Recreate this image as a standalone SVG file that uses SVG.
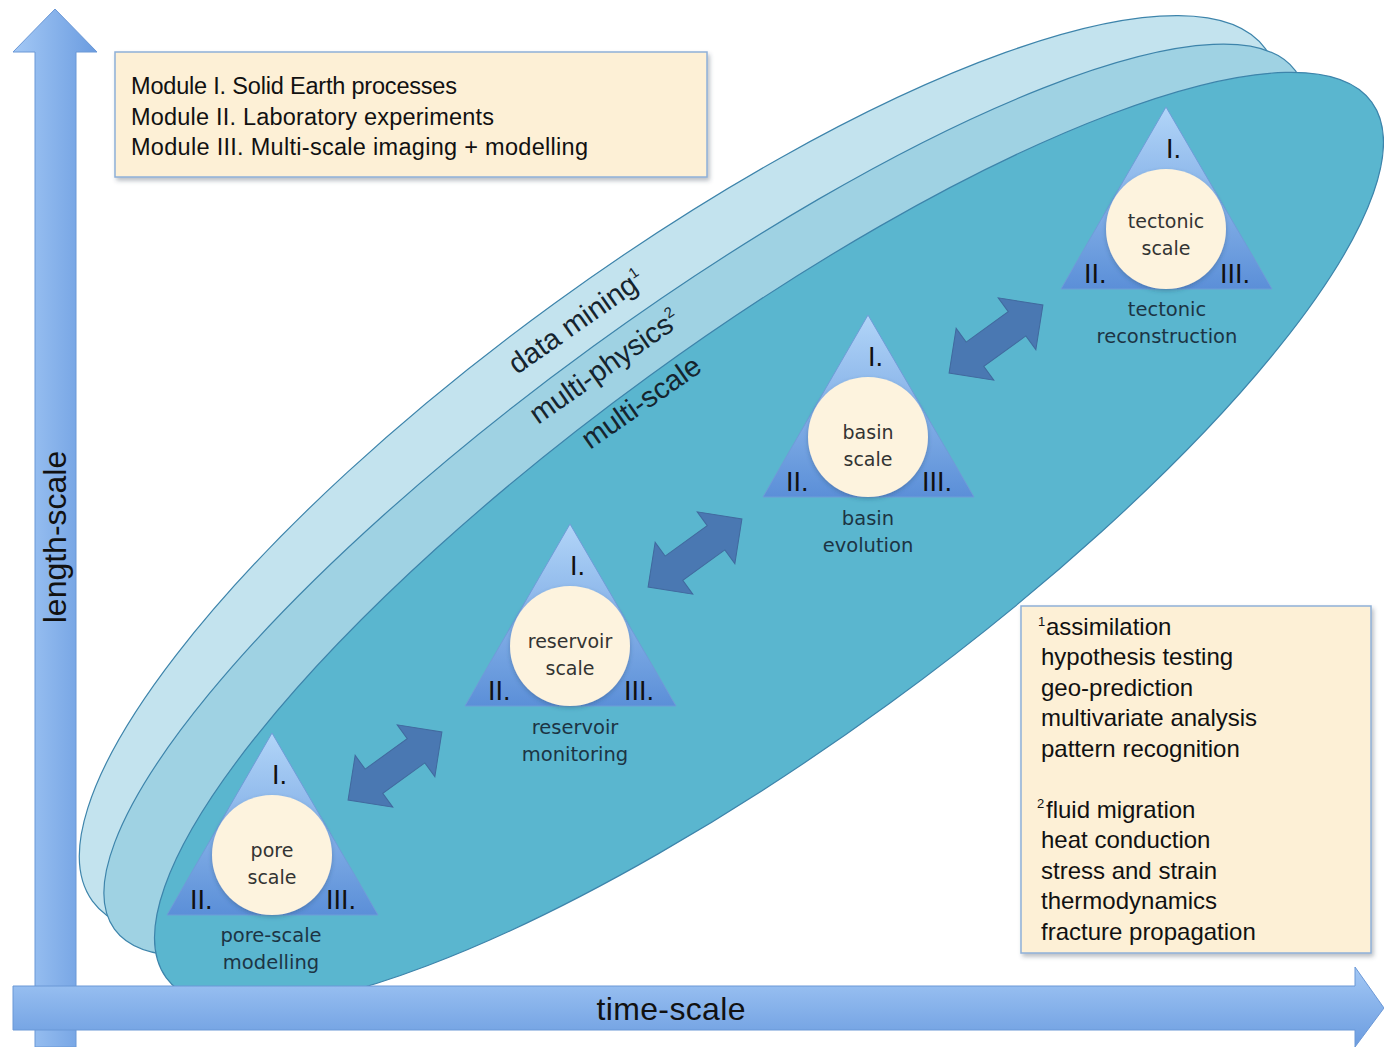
<svg xmlns="http://www.w3.org/2000/svg" width="1384" height="1047" viewBox="0 0 1384 1047">
  <defs>
    <linearGradient id="axisV" x1="0" y1="0" x2="1" y2="0">
      <stop offset="0" stop-color="#a3c8f5"/>
      <stop offset="1" stop-color="#6b9ce0"/>
    </linearGradient>
    <linearGradient id="axisH" x1="0" y1="0" x2="0" y2="1">
      <stop offset="0" stop-color="#a3c8f5"/>
      <stop offset="1" stop-color="#6b9ce0"/>
    </linearGradient>
    <linearGradient id="triFill" x1="0" y1="0" x2="0" y2="1">
      <stop offset="0" stop-color="#b2d5f8"/>
      <stop offset="1" stop-color="#5b8fd8"/>
    </linearGradient>
    <filter id="shadow" x="-10%" y="-10%" width="130%" height="130%">
      <feDropShadow dx="2" dy="3" stdDeviation="2" flood-color="#3a4a5a" flood-opacity="0.35"/>
    </filter>
    <filter id="softShadow" x="-20%" y="-20%" width="140%" height="140%">
      <feDropShadow dx="0" dy="2" stdDeviation="2" flood-color="#2a4a6a" flood-opacity="0.35"/>
    </filter>
    <style>
      .band { stroke: #3d84ab; stroke-width: 1.2; }
      .box { fill: #fdf0d6; stroke: #8eb0d8; stroke-width: 1.5; filter: url(#shadow); }
      .box-t { font-family: "Liberation Sans", Arial, sans-serif; fill: #111; }
      .band-t { font-family: "Liberation Sans", Arial, sans-serif; font-size: 29px; fill: #15242e; }
      .tri { fill: url(#triFill); stroke: #6f9cd8; stroke-width: 1; }
      .core { fill: #fdf3de; filter: url(#softShadow); }
      .num { font-family: "Liberation Sans", Arial, sans-serif; font-size: 27px; fill: #111; }
      .core-t { font-family: "DejaVu Sans", Verdana, sans-serif; font-size: 19px; fill: #333; text-anchor: middle; }
      .cap { font-family: "DejaVu Sans", Verdana, sans-serif; font-size: 19.5px; fill: #1c3444; text-anchor: middle; }
      .dbl { fill: #4a78b2; stroke: #41699e; stroke-width: 1; }
      .axis-t { font-family: "Liberation Sans", Arial, sans-serif; font-size: 32px; fill: #111; }
    </style>
  </defs>

  <rect width="1384" height="1047" fill="#ffffff"/>

  <!-- three nested analysis bands -->
  <g id="bands">
    <ellipse id="band-data-mining" class="band" cx="679" cy="475" rx="725" ry="212" transform="rotate(-36 679 475)" fill="#c3e3ee"/>
    <ellipse id="band-multi-physics" class="band" cx="705" cy="500" rx="730" ry="190" transform="rotate(-36 705 500)" fill="#9fd2e3"/>
    <ellipse id="band-multi-scale" class="band" cx="769" cy="540" rx="745" ry="203" transform="rotate(-36 769 540)" fill="#5ab6cf"/>
  </g>

  <g id="band-labels">
    <text class="band-t" transform="translate(517 375) rotate(-35)">data mining<tspan font-size="15" dy="-12">1</tspan></text>
    <text class="band-t" font-size="30" transform="translate(538 425) rotate(-35)">multi-physics<tspan font-size="15" dy="-12">2</tspan></text>
    <text class="band-t" font-size="29.5" transform="translate(590 450) rotate(-35)">multi-scale</text>
  </g>

  <!-- links between neighbouring scales -->
  <g id="connectors">
    <path class="dbl" transform="translate(395 766) rotate(-36)" d="M-58,0 L-26,-32 L-26,-15 L26,-15 L26,-32 L58,0 L26,32 L26,15 L-26,15 L-26,32 Z"/>
    <path class="dbl" transform="translate(695 553) rotate(-36)" d="M-58,0 L-26,-32 L-26,-15 L26,-15 L26,-32 L58,0 L26,32 L26,15 L-26,15 L-26,32 Z"/>
    <path class="dbl" transform="translate(996 339) rotate(-36)" d="M-58,0 L-26,-32 L-26,-15 L26,-15 L26,-32 L58,0 L26,32 L26,15 L-26,15 L-26,32 Z"/>
  </g>

  <!-- scale nodes: module triangle with core disc -->
  <g id="node-pore">
    <polygon class="tri" points="272,733 167,915 378,915"/>
    <circle class="core" cx="272" cy="855" r="60"/>
    <text class="num" x="272" y="784">I.</text>
    <text class="num" x="190" y="909">II.</text>
    <text class="num" x="326" y="909">III.</text>
    <text class="core-t" x="272" y="857">pore</text>
    <text class="core-t" x="272" y="884">scale</text>
    <text class="cap" x="271" y="942">pore-scale</text>
    <text class="cap" x="271" y="969">modelling</text>
  </g>

  <g id="node-reservoir">
    <polygon class="tri" points="570,524 465,706 676,706"/>
    <circle class="core" cx="570" cy="646" r="60"/>
    <text class="num" x="570" y="575">I.</text>
    <text class="num" x="488" y="700">II.</text>
    <text class="num" x="624" y="700">III.</text>
    <text class="core-t" x="570" y="648">reservoir</text>
    <text class="core-t" x="570" y="675">scale</text>
    <text class="cap" x="575" y="734">reservoir</text>
    <text class="cap" x="575" y="761">monitoring</text>
  </g>

  <g id="node-basin">
    <polygon class="tri" points="868,315 763,497 974,497"/>
    <circle class="core" cx="868" cy="437" r="60"/>
    <text class="num" x="868" y="366">I.</text>
    <text class="num" x="786" y="491">II.</text>
    <text class="num" x="922" y="491">III.</text>
    <text class="core-t" x="868" y="439">basin</text>
    <text class="core-t" x="868" y="466">scale</text>
    <text class="cap" x="868" y="525">basin</text>
    <text class="cap" x="868" y="552">evolution</text>
  </g>

  <g id="node-tectonic">
    <polygon class="tri" points="1166,107 1061,289 1272,289"/>
    <circle class="core" cx="1166" cy="229" r="60"/>
    <text class="num" x="1166" y="158">I.</text>
    <text class="num" x="1084" y="283">II.</text>
    <text class="num" x="1220" y="283">III.</text>
    <text class="core-t" x="1166" y="228">tectonic</text>
    <text class="core-t" x="1166" y="255">scale</text>
    <text class="cap" x="1167" y="316">tectonic</text>
    <text class="cap" x="1167" y="343">reconstruction</text>
  </g>

  <!-- legend boxes -->
  <g id="modules-box">
    <rect class="box" x="115" y="52" width="592" height="125"/>
    <text class="box-t" font-size="23.5" x="131" y="94" textLength="326">Module I. Solid Earth processes</text>
    <text class="box-t" font-size="23.5" x="131" y="125" textLength="363">Module II. Laboratory experiments</text>
    <text class="box-t" font-size="23.5" x="131" y="155" textLength="457">Module III. Multi-scale imaging + modelling</text>
  </g>

  <g id="methods-box">
    <rect class="box" x="1021" y="606" width="350" height="347"/>
    <text class="box-t" font-size="24">
      <tspan x="1038" y="626" font-size="13">1</tspan><tspan x="1046" y="635">assimilation</tspan>
      <tspan x="1041" y="665">hypothesis testing</tspan>
      <tspan x="1041" y="696">geo-prediction</tspan>
      <tspan x="1041" y="726">multivariate analysis</tspan>
      <tspan x="1041" y="757">pattern recognition</tspan>
      <tspan x="1037" y="808" font-size="13">2</tspan><tspan x="1046" y="818">fluid migration</tspan>
      <tspan x="1041" y="848">heat conduction</tspan>
      <tspan x="1041" y="879">stress and strain</tspan>
      <tspan x="1041" y="909">thermodynamics</tspan>
      <tspan x="1041" y="940">fracture propagation</tspan>
    </text>
  </g>

  <!-- axes -->
  <g id="axis-length">
    <path d="M35,1047 L35,52 L13,52 L55,9 L97,52 L76,52 L76,1047 Z" fill="url(#axisV)" stroke="#6b98d6" stroke-width="1"/>
    <text class="axis-t" font-size="33" text-anchor="middle" transform="translate(66 537) rotate(-90)">length-scale</text>
  </g>
  <g id="axis-time">
    <path d="M13,986 L1355,986 L1355,967 L1384,1008 L1355,1047 L1355,1030 L13,1030 Z" fill="url(#axisH)" stroke="#6b98d6" stroke-width="1"/>
    <text class="axis-t" text-anchor="middle" x="671" y="1020" textLength="149">time-scale</text>
  </g>
</svg>
